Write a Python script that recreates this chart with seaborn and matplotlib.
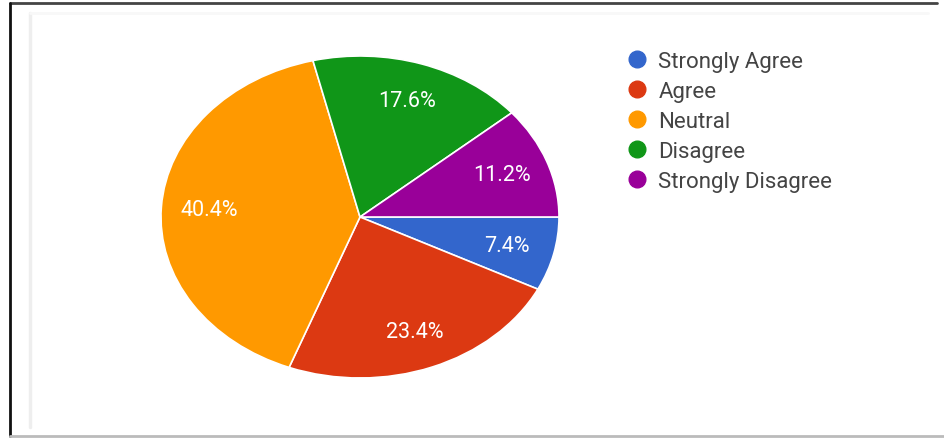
import matplotlib
matplotlib.use("Agg")
import matplotlib.pyplot as plt
import seaborn as sns
from matplotlib.lines import Line2D

sns.set_theme(style="white")
plt.rcParams['font.family'] = ['Roboto', 'DejaVu Sans']

categories = ["Strongly Agree", "Agree", "Neutral", "Disagree", "Strongly Disagree"]
values = [7.4, 23.4, 40.4, 17.6, 11.2]
colors = ["#3366cc", "#dc3912", "#ff9900", "#109618", "#990099"]

W, H = 945, 439
fig = plt.figure(figsize=(W / 100, H / 100), dpi=100)
fig.patch.set_facecolor("white")

# pie axes (ellipse shaped like the reference)
left, right, top, bottom = 161, 559, 57, 379
ax = fig.add_axes([left / W, (H - bottom) / H, (right - left) / W, (bottom - top) / H])
wedges, texts, autotexts = ax.pie(
    values, colors=colors, startangle=0, counterclock=False,
    autopct=lambda p: f"{p:.1f}%", pctdistance=0.76,
    wedgeprops=dict(edgecolor="white", linewidth=1.2),
    textprops=dict(color="white", fontsize=15.5),
)
ax.set_aspect("auto")
ax.set_xlim(-1, 1)
ax.set_ylim(-1, 1)
ax.axis("off")

handles = [Line2D([0], [0], marker="o", linestyle="", markersize=12,
                  markerfacecolor=c, markeredgecolor=c) for c in colors]
fig.legend(handles, categories, loc="upper left",
           bbox_to_anchor=(626 / W, 1 - 52 / H), frameon=False,
           fontsize=16, labelspacing=0.4, handletextpad=0.46,
           handlelength=1.0, borderaxespad=0, borderpad=0,
           labelcolor="#444444")

# frame lines like the screenshot
def fline(x0, y0, x1, y1, color, lw):
    fig.add_artist(Line2D([x0 / W, x1 / W], [1 - y0 / H, 1 - y1 / H],
                          transform=fig.transFigure, color=color, lw=lw))

fline(10, 4, 937, 4, "#444444", 2.0)
fline(10, 4, 10, 437, "#111111", 2.0)
fline(10, 437, 945, 437, "#bbbbbb", 2.0)
fline(30, 14, 30, 428, "#eeeeee", 2.5)
fline(30, 14, 928, 14, "#f8f8f8", 2.0)

fig.savefig("out.png", dpi=100, facecolor="white")
